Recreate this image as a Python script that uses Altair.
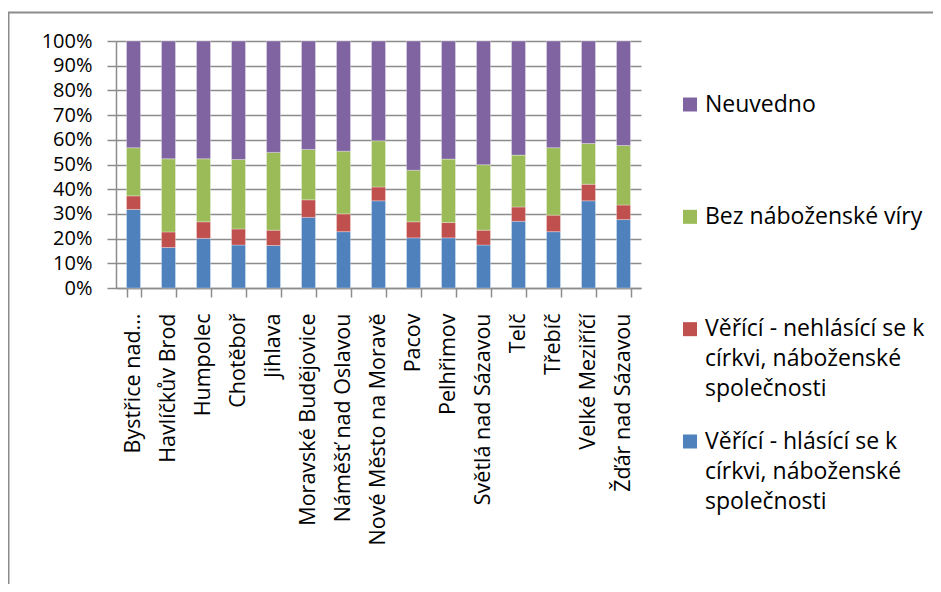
import altair as alt
import pandas as pd

towns = ["Bystřice nad...", "Havlíčkův Brod", "Humpolec", "Chotěboř", "Jihlava",
         "Moravské Budějovice", "Náměšť nad Oslavou", "Nové Město na Moravě", "Pacov",
         "Pelhřimov", "Světlá nad Sázavou", "Telč", "Třebíč", "Velké Meziříčí",
         "Žďár nad Sázavou"]

series = ["Neuvedno", "Bez náboženské víry",
          "Věřící - nehlásící se k církvi, náboženské společnosti",
          "Věřící - hlásící se k církvi, náboženské společnosti"]
legend_labels = ["Neuvedno", "Bez náboženské víry",
                 "Věřící - nehlásící se k\ncírkvi, náboženské\nspolečnosti",
                 "Věřící - hlásící se k\ncírkvi, náboženské\nspolečnosti"]
colors = ["#8064A2", "#9BBB59", "#C0504D", "#4F81BD"]

hlasici = [31.8, 16.4, 20.1, 17.4, 17.2, 28.6, 22.8, 35.3, 20.3, 20.3, 17.4, 27.0, 22.8, 35.3, 27.7]
nehlasici = [5.5, 6.3, 6.7, 6.5, 6.2, 7.1, 7.2, 5.6, 6.5, 6.2, 6.0, 5.8, 6.7, 6.7, 5.9]
bez = [19.5, 29.6, 25.5, 28.1, 31.5, 20.4, 25.4, 18.7, 20.9, 25.7, 26.5, 21.0, 27.3, 16.5, 24.1]
neuvedno = [43.2, 47.7, 47.7, 48.0, 45.1, 43.9, 44.6, 40.4, 52.3, 47.8, 50.1, 46.2, 43.2, 41.5, 42.3]

rows = []
for vals, s, o in [(hlasici, series[3], 0), (nehlasici, series[2], 1), (bez, series[1], 2), (neuvedno, series[0], 3)]:
    for t, v in zip(towns, vals):
        rows.append({"town": t, "series": s, "value": v, "ord": o})
df = pd.DataFrame(rows)

color_scale = alt.Scale(domain=series, range=colors)

bars = alt.Chart(df).mark_bar(stroke="white", strokeWidth=0.5, strokeOpacity=0.6).encode(
    x=alt.X("town:N", sort=towns, title=None,
            scale=alt.Scale(paddingInner=0.6, paddingOuter=0.3),
            axis=alt.Axis(labelAngle=270, labelAlign="right", labelBaseline="middle",
                          tickBand="extent", tickSize=9, labelPadding=16,
                          labelFont="Open Sans", labelFontSize=21.5, labelColor="black",
                          domainColor="#8c8c8c", tickColor="#8c8c8c",
                          domainWidth=1.5, tickWidth=1.5, grid=False, labelLimit=300)),
    y=alt.Y("value:Q", stack="normalize", title=None,
            scale=alt.Scale(domain=[0, 1], nice=False),
            axis=alt.Axis(values=[i / 10 for i in range(11)], format=".0%",
                          tickSize=9, labelPadding=15, grid=True,
                          labelFont="Open Sans", labelFontSize=20, labelColor="black",
                          gridColor="#8c8c8c", gridWidth=1.5,
                          domainColor="#8c8c8c", tickColor="#8c8c8c",
                          domainWidth=1.5, tickWidth=1.5)),
    color=alt.Color("series:N", scale=color_scale, legend=None),
    order=alt.Order("ord:Q", sort="ascending"),
)

leg_df = pd.DataFrame({"series": series, "label": legend_labels})
leg_y = alt.Y("series:N", scale=alt.Scale(type="point", domain=series, range=[63.5, 400.5], padding=0),
              axis=None)

leg_sq = alt.Chart(leg_df).mark_square(size=196, opacity=1).encode(
    x=alt.value(574), y=leg_y,
    color=alt.Color("series:N", scale=color_scale, legend=None),
)
leg_txt = alt.Chart(leg_df).mark_text(align="left", baseline="alphabetic", dy=7,
                                      font="Open Sans", fontSize=23, lineBreak="\n",
                                      lineHeight=30, color="black").encode(
    x=alt.value(589), y=leg_y, text="label:N",
)

border_df = pd.DataFrame({"a": [0]})
border_v = alt.Chart(border_df).mark_rule(color="#8c8c8c", strokeWidth=2).encode(
    x=alt.value(-107.5), y=alt.value(-28.5), y2=alt.value(560))
border_h = alt.Chart(border_df).mark_rule(color="#8c8c8c", strokeWidth=2).encode(
    x=alt.value(-108.5), x2=alt.value(830), y=alt.value(-28.5))

chart = alt.layer(bars, leg_sq, leg_txt, border_v, border_h).resolve_scale(
    y="independent", x="independent"
).properties(
    width=525, height=247,
    padding={"left": 108, "top": 33, "right": 292, "bottom": 296},
    autosize=alt.AutoSizeParams(type="none"),
    background="white",
).configure_view(stroke=None)

chart.save("out.html", embed_options={"renderer": "svg", "actions": False})
